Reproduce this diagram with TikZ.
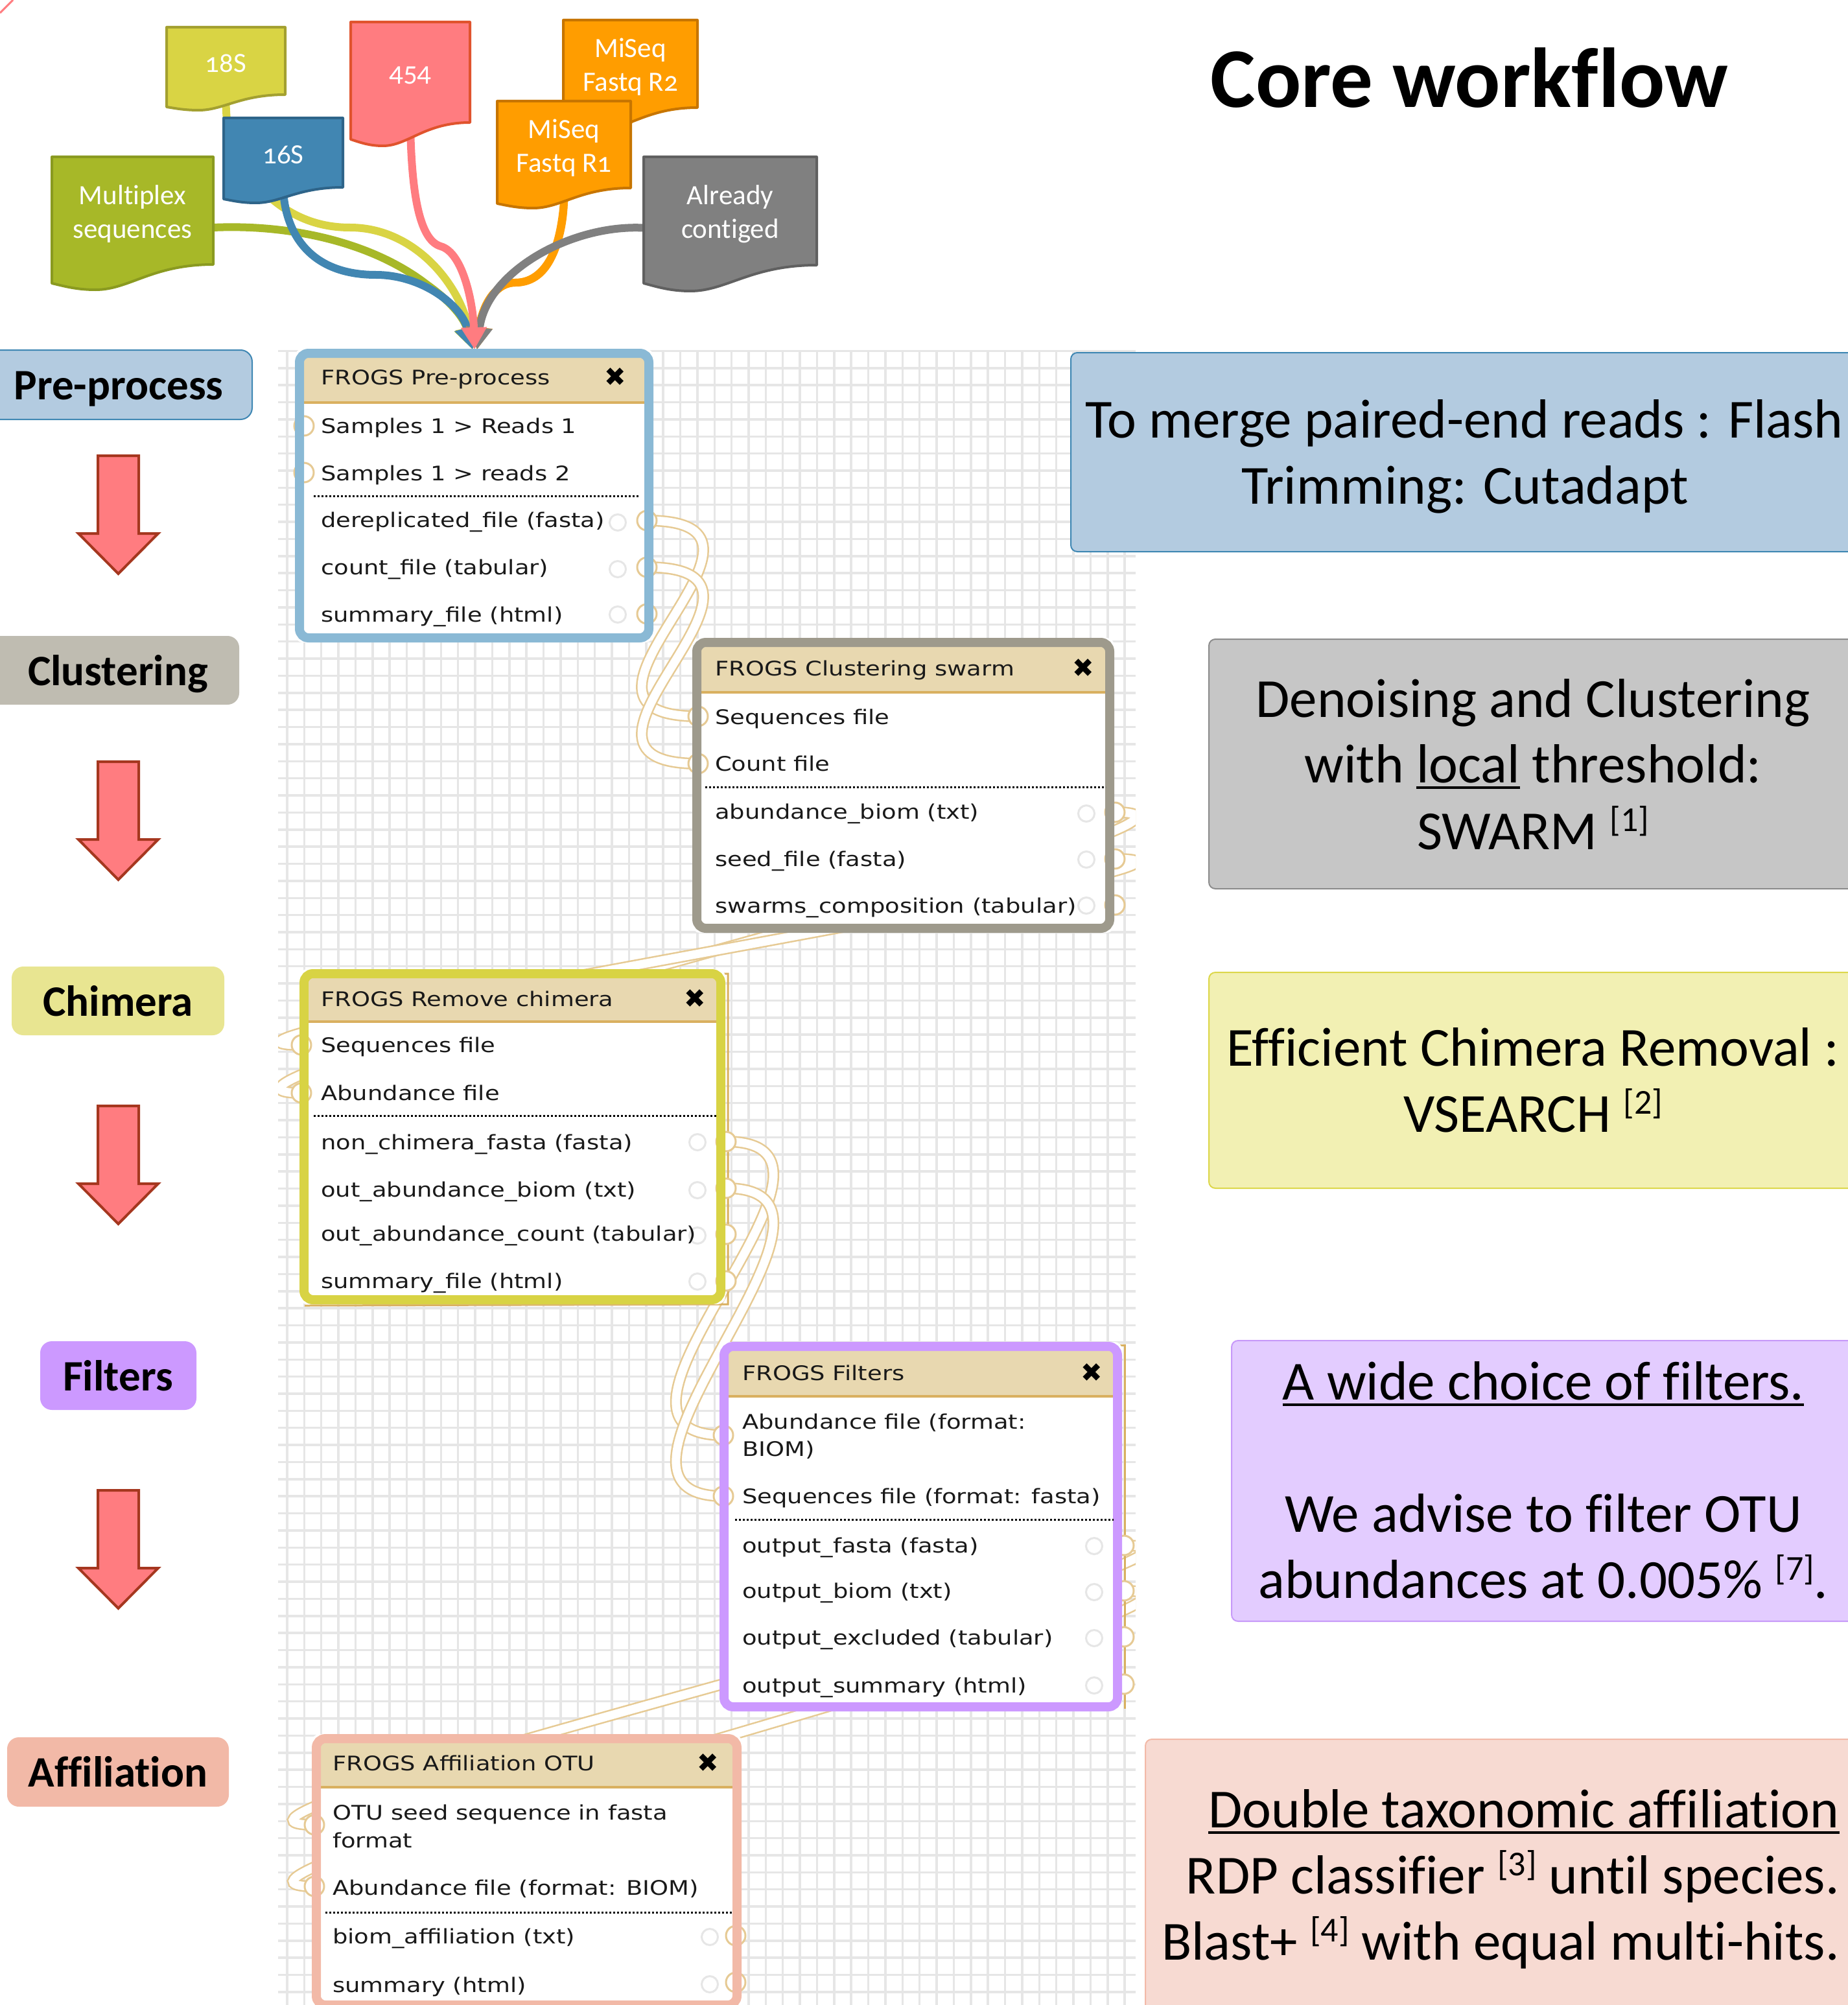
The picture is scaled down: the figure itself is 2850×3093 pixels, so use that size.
\documentclass[tikz,border=0pt]{standalone}
\usepackage{fontspec}
\usetikzlibrary{arrows.meta}
\setmainfont{Carlito}[Ligatures=NoCommon]
\newfontfamily\docfont[Numbers=OldStyle,Ligatures=NoCommon]{Carlito}
\newfontfamily\boxfont[FakeStretch=1.19]{DejaVu Sans}
\newfontfamily\xfont{DejaVu Sans}
\definecolor{gridc}{HTML}{E6E6E6}
\definecolor{wirec}{HTML}{E6CA94}
\definecolor{headc}{HTML}{E8D8B0}
\definecolor{headl}{HTML}{D9B060}
\definecolor{pinkf}{HTML}{FF7C80}
\definecolor{pinkd}{HTML}{A5371F}
\definecolor{c18}{HTML}{D9D444}
\definecolor{c18d}{HTML}{A3A030}
\definecolor{c16}{HTML}{4186B2}
\definecolor{c16d}{HTML}{2E6489}
\definecolor{c454d}{HTML}{E0532D}
\definecolor{cmi}{HTML}{FF9D00}
\definecolor{cmid}{HTML}{C77500}
\definecolor{cmu}{HTML}{A7B828}
\definecolor{cmud}{HTML}{8A9A20}
\definecolor{cal}{HTML}{808080}
\definecolor{cald}{HTML}{606060}
\definecolor{bpre}{HTML}{8AB9D5}
\definecolor{bclu}{HTML}{9E9A8C}
\definecolor{bchi}{HTML}{D8D344}
\definecolor{bfil}{HTML}{CC99FF}
\definecolor{baff}{HTML}{F2B9A7}
\definecolor{lblue}{HTML}{B3CBE0}
\definecolor{lblued}{HTML}{3F87B3}
\definecolor{lclu}{HTML}{BFBCB1}
\definecolor{lchi}{HTML}{E8E591}
\definecolor{rgray}{HTML}{C6C6C6}
\definecolor{rgrayd}{HTML}{8C8C8C}
\definecolor{ryel}{HTML}{F2F0B3}
\definecolor{ryeld}{HTML}{DCD74A}
\definecolor{rpur}{HTML}{E3CCFF}
\definecolor{rpurd}{HTML}{C799F9}
\definecolor{rpin}{HTML}{F7DAD2}
\pgfdeclarelayer{gridlayer}
\pgfdeclarelayer{wirelayer}
\pgfsetlayers{gridlayer,wirelayer,main}
\newcommand{\ulbar}[1]{\setbox0\hbox{#1}\rlap{\vrule width\wd0 height -6pt depth 10pt}\box0\relax}
\newcommand{\sref}[1]{\raisebox{28pt}{\fontsize{54}{54}\selectfont[#1]}}
\newcommand{\docshape}[9]{%
  % name,x1,x2,top,yr,yl,low,fill,border
  \draw[fill=#8,draw=#9,line width=4pt,line join=round]
    (#2,#4) -- (#3,#4) -- (#3,#5)
    .. controls ({#2+0.62*(#3-#2)},#5) and ({#2+0.48*(#3-#2)},#7) .. ({#2+0.27*(#3-#2)},#7)
    .. controls ({#2+0.15*(#3-#2)},#7) and ({#2+0.07*(#3-#2)},{#6+0.4*(#7-#6)}) .. (#2,#6) -- cycle;
  \node[docnode,minimum width={(#3-#2)*1pt},minimum height={(#5-#4)*1pt}] (#1) at ({(#2+#3)/2},{(#4+#5)/2})}
\newcommand{\frogsbg}[6]{% x1,y1,x2,y2,headerbottom,dummy
  \fill[white,rounded corners=12pt] (#1,#2) rectangle (#3,#4);
  \fill[headc] ({#1+7},{#2+7}) rectangle ({#3-7},#5);
  \draw[headl,line width=3.5pt] ({#1+7},#5) -- ({#3-7},#5);}
\newcommand{\frogsborder}[5]{% x1,y1,x2,y2,colour
  \draw[#5,line width=14pt,rounded corners=14pt] ({#1+7},{#2+7}) rectangle ({#3-7},{#4-7});}
\newcommand{\stagearrow}[1]{%
  \draw[fill=pinkf,draw=pinkd,line width=4pt,miter limit=8]
    (151,{#1+1}) -- (214,{#1+1}) -- (214,{#1+121}) -- (244,{#1+121}) -- (182.5,{#1+183}) -- (121,{#1+121}) -- (151,{#1+121}) -- cycle;}
\tikzset{
  gridline/.style={gridc,line width=3.5pt},
  docnode/.style={inner sep=0pt,align=center,text=white,yshift=-5pt,font=\docfont\fontsize{43}{52}\selectfont},
  feed/.style={line width=12pt,-{Triangle[length=34pt,width=38pt]}},
  wire/.style={draw=wirec,line width=2.5pt,double=white,double distance=13pt},
  termin/.style={circle,inner sep=0pt,minimum size=30pt,draw=wirec,line width=3pt,fill=white},
  termgray/.style={circle,inner sep=0pt,minimum size=25pt,draw=gridc,line width=3pt},
  rowtext/.style={anchor=base west,yshift=-11pt,inner sep=0pt,text=black!90,font=\boxfont\fontsize{31}{40}\selectfont},
  closex/.style={inner sep=0pt,text=black,font=\xfont\fontsize{40}{40}\selectfont},
  dotrule/.style={black,line width=3pt,dash pattern=on 3pt off 3pt},
  labelbox/.style={rounded corners=18pt,inner sep=0pt},
  labeltext/.style={anchor=base,yshift=-23pt,inner sep=0pt,font=\bfseries\fontsize{67}{80}\selectfont},
  rightbox/.style={rounded corners=10pt,line width=2pt},
  bigtext/.style={anchor=base,yshift=-26pt,inner sep=0pt,text=black,font=\fontsize{85}{102}\selectfont},
}
\begin{document}
\begin{tikzpicture}[x=1pt,y=-1pt]
\useasboundingbox (0,0) rectangle (2850,3093);
% corner mark
\draw[pinkf,line width=3pt] (0,20) -- (20,0);
% grid
\begin{pgfonlayer}{gridlayer}
\foreach \k in {0,...,96} \draw[gridline] (429,{541.4+26.37*\k}) -- (1752,{541.4+26.37*\k});
\foreach \k in {0,...,49} \draw[gridline] ({443+26.37*\k},540) -- ({443+26.37*\k},3093);
\end{pgfonlayer}

% source documents
\docshape{r2}{869}{1076}{31}{166}{190}{200}{cmi}{cmid} {MiSeq\\Fastq R2};
\docshape{s18}{257}{440}{42}{146}{165}{170}{c18}{c18d} {\raisebox{3pt}{18S}};
\docshape{s16}{345}{529}{182}{289}{307}{313}{c16}{c16d} {\raisebox{3pt}{16S}};
\docshape{n454}{541}{725}{34}{189}{215}{225}{pinkf}{c454d} {\raisebox{-5pt}{454}};
\docshape{r1}{767}{973}{156}{290}{314}{321}{cmi}{cmid} {MiSeq\\Fastq R1};
\docshape{mu}{80}{329}{242}{408}{437}{447}{cmu}{cmud} {Multiplex\\sequences};
\docshape{al}{993}{1260}{242}{409}{437}{449}{cal}{cald} {Already\\contiged};
\coordinate (tipL) at (729,539);
\coordinate (tipC) at (732,539);
\coordinate (tipR) at (736,539);

% title
\node[anchor=base,inner sep=0pt,font=\bfseries\fontsize{131}{140}\selectfont] (core) at (2267,166) {Core workflow};

% stage labels
\node[labelbox,fill=lblue,draw=lblued,line width=2pt,minimum width=409pt,minimum height=107pt] (lpreb) at (184.5,593.5) {};
\node[labeltext] (lpre) at (183,593) {Pre-process};
\node[labelbox,fill=lclu,minimum width=389pt,minimum height=106pt] (lclub) at (174.5,1034) {};
\node[labeltext] (lclu) at (182,1034) {Clustering};
\node[labelbox,fill=lchi,minimum width=328pt,minimum height=106pt] (lchib) at (182,1544) {};
\node[labeltext] (lchi) at (182,1544) {Chimera};
\node[labelbox,fill=bfil,minimum width=241pt,minimum height=106pt] (lfilb) at (182.5,2122) {};
\node[labeltext] (lfil) at (182,2122) {Filters};
\node[labelbox,fill=baff,minimum width=342pt,minimum height=107pt] (laffb) at (182,2733.5) {};
\node[labeltext] (laff) at (182,2733) {Affiliation};
\stagearrow{702}
\stagearrow{1174}
\stagearrow{1705}
\stagearrow{2298}

% FROGS Pre-process
\frogsbg{455}{538}{1008}{991}{621}{}
\node[termin] (pi1) at (469,657) {};
\node[termin] (pi2) at (469,729) {};
\node[termgray] (pg1) at (953,806) {};
\node[termgray] (pg2) at (953,878) {};
\node[termgray] (pg3) at (953,948) {};
\node[termin] (po1) at (998,803) {};
\node[termin] (po2) at (998,875) {};
\node[termin] (po3) at (998,947) {};
\frogsborder{455}{538}{1008}{991}{bpre}
\node[rowtext] (pt) at (495,582) {FROGS Pre-process};
\node[closex] (px) at (949,582) {✖};
\node[rowtext] (pr1) at (495,657) {Samples 1 > Reads 1};
\node[rowtext] (pr2) at (495,730) {Samples 1 > reads 2};
\draw[dotrule] (484,765) -- (985,765);
\node[rowtext] (pr3) at (495,802) {dereplicated\_file (fasta)};
\node[rowtext] (pr4) at (495,875) {count\_file (tabular)};
\node[rowtext] (pr5) at (495,948) {summary\_file (html)};

% FROGS Clustering swarm
\frogsbg{1068}{984}{1719}{1439}{1068}{}
\node[termin] (ci1) at (1077,1105) {};
\node[termin] (ci2) at (1077,1178) {};
\node[termgray] (cg1) at (1676,1255) {};
\node[termgray] (cg2) at (1676,1326) {};
\node[termgray] (cg3) at (1676,1397) {};
\node[termin] (co1) at (1720,1253) {};
\node[termin] (co2) at (1720,1325) {};
\node[termin] (co3) at (1720,1396) {};
\frogsborder{1068}{984}{1719}{1439}{bclu}
\node[rowtext] (ct) at (1103,1031) {FROGS Clustering swarm};
\node[closex] (cx) at (1671,1031) {✖};
\node[rowtext] (cr1) at (1103,1106) {Sequences file};
\node[rowtext] (cr2) at (1103,1178) {Count file};
\draw[dotrule] (1088,1214) -- (1706,1214);
\node[rowtext] (cr3) at (1103,1252) {abundance\_biom (txt)};
\node[rowtext] (cr4) at (1103,1325) {seed\_file (fasta)};
\node[rowtext] (cr5) at (1103,1397) {swarms\_composition (tabular)};

% FROGS Remove chimera
\draw[headl,line width=3pt] (1100,1502) -- (1123,1502) -- (1123,2012) -- (470,2014);
\frogsbg{462}{1495}{1119}{2012}{1576}{}
\node[termin] (hi1) at (465,1612) {};
\node[termin] (hi2) at (465,1686) {};
\node[termgray] (hg1) at (1076,1762) {};
\node[termgray] (hg2) at (1076,1836) {};
\node[termgray] (hg3) at (1076,1906) {};
\node[termgray] (hg4) at (1076,1977) {};
\node[termin] (ho1) at (1120,1761) {};
\node[termin] (ho2) at (1120,1833) {};
\node[termin] (ho3) at (1120,1904) {};
\node[termin] (ho4) at (1120,1976) {};
\frogsborder{462}{1495}{1119}{2012}{bchi}
\node[rowtext] (ht) at (495,1541) {FROGS Remove chimera};
\node[closex] (hx) at (1072,1541) {✖};
\node[rowtext] (hr1) at (495,1612) {Sequences file};
\node[rowtext] (hr2) at (495,1686) {Abundance file};
\draw[dotrule] (484,1721) -- (1106,1721);
\node[rowtext] (hr3) at (495,1762) {non\_chimera\_fasta (fasta)};
\node[rowtext] (hr4) at (495,1835) {out\_abundance\_biom (txt)};
\node[rowtext] (hr5) at (495,1903) {out\_abundance\_count (tabular)};
\node[rowtext] (hr6) at (495,1976) {summary\_file (html)};

% FROGS Filters
\draw[headl,line width=3pt] (1700,2075) -- (1735,2075) -- (1735,2636);
\frogsbg{1110}{2070}{1731}{2640}{2154}{}
\node[termin] (fi1) at (1116,2214) {};
\node[termin] (fi2) at (1116,2308) {};
\node[termgray] (fg1) at (1688,2385) {};
\node[termgray] (fg2) at (1688,2456) {};
\node[termgray] (fg3) at (1688,2527) {};
\node[termgray] (fg4) at (1688,2600) {};
\node[termin] (fo1) at (1734,2384) {};
\node[termin] (fo2) at (1734,2454) {};
\node[termin] (fo3) at (1734,2525) {};
\node[termin] (fo4) at (1734,2598) {};
\frogsborder{1110}{2070}{1731}{2640}{bfil}
\node[rowtext] (ft) at (1145,2118) {FROGS Filters};
\node[closex] (fx) at (1684,2118) {✖};
\node[rowtext] (fr1) at (1145,2193) {Abundance file (format:};
\node[rowtext] (fr1b) at (1145,2235) {BIOM)};
\node[rowtext] (fr2) at (1145,2308) {Sequences file (format: fasta)};
\draw[dotrule] (1134,2344) -- (1718,2344);
\node[rowtext] (fr3) at (1145,2384) {output\_fasta (fasta)};
\node[rowtext] (fr4) at (1145,2454) {output\_biom (txt)};
\node[rowtext] (fr5) at (1145,2526) {output\_excluded (tabular)};
\node[rowtext] (fr6) at (1145,2600) {output\_summary (html)};

% FROGS Affiliation OTU
\frogsbg{481}{2675}{1144}{3100}{2757}{}
\node[termin] (ai1) at (485,2815) {};
\node[termin] (ai2) at (485,2910) {};
\node[termgray] (ag1) at (1095,2988) {};
\node[termgray] (ag2) at (1095,3061) {};
\node[termin] (ao1) at (1135,2986) {};
\node[termin] (ao2) at (1135,3058) {};
\frogsborder{481}{2675}{1144}{3100}{baff}
\node[rowtext] (at) at (513,2720) {FROGS Affiliation OTU};
\node[closex] (ax) at (1092,2720) {✖};
\node[rowtext] (ar1) at (513,2796) {OTU seed sequence in fasta};
\node[rowtext] (ar1b) at (513,2839) {format};
\node[rowtext] (ar2) at (513,2912) {Abundance file (format: BIOM)};
\draw[dotrule] (502,2950) -- (1130,2950);
\node[rowtext] (ar3) at (513,2987) {biom\_affiliation (txt)};
\node[rowtext] (ar4) at (513,3062) {summary (html)};

% right panels
\draw[rightbox,fill=lblue,draw=lblued] (1652,544) rectangle (2890,851);
\node[bigtext] (b1) at (2259,649) {To merge paired-end reads : Flash};
\node[bigtext] (b2) at (2260,751) {Trimming: Cutadapt};
\draw[rightbox,fill=rgray,draw=rgrayd] (1865,986) rectangle (2890,1371);
\node[bigtext] (g1) at (2365,1080) {Denoising and Clustering};
\node[bigtext] (g2) at (2365,1181) {with \ulbar{local} threshold:};
\node[bigtext] (g3) at (2365,1284) {SWARM \sref{1}};
\draw[rightbox,fill=ryel,draw=ryeld] (1865,1500) rectangle (2890,1833);
\node[bigtext] (y1) at (2365,1618) {Efficient Chimera Removal :};
\node[bigtext] (y2) at (2365,1720) {VSEARCH \sref{2}};
\draw[rightbox,fill=rpur,draw=rpurd] (1900,2068) rectangle (2890,2501);
\node[bigtext] (v1) at (2381,2133) {\ulbar{A wide choice of filters.}};
\node[bigtext] (v2) at (2381,2337) {We advise to filter OTU};
\node[bigtext] (v3) at (2381,2439) {abundances at 0.005\% \sref{7}.};
\draw[rightbox,fill=rpin,draw=baff] (1767,2683) rectangle (2890,3120);
\node[bigtext,anchor=base east] (k1) at (2838,2793) {\ulbar{Double taxonomic affiliation}};
\node[bigtext,anchor=base east] (k2) at (2838,2895) {RDP classifier \sref{3} until species.};
\node[bigtext,anchor=base east] (k3) at (2838,2997) {Blast+ \sref{4} with equal multi-hits.};

% connectors
\begin{pgfonlayer}{wirelayer}
\draw[feed,c18] (s18.south) .. controls (348,240) and (380,280) .. (422,309) .. controls (460,340) and (500,351) .. (540,351) .. controls (640,351) and (710,440) .. (tipL);
\draw[feed,cmu] ([yshift=-21pt]mu.east) .. controls (440,346) and (570,370) .. (660,440) .. controls (695,465) and (716,490) .. (tipL);
\draw[feed,c16] (s16.south) .. controls (440,350) and (470,424) .. (580,424) .. controls (650,424) and (712,470) .. (tipL);
\draw[feed,cmi] (r2.south) .. controls (972,230) and (880,250) .. (870,312) .. controls (865,370) and (850,436) .. (795,436) .. controls (760,436) and (742,480) .. (tipR);
\draw[feed,cmi] (r1.south) .. controls (872,360) and (850,436) .. (795,436) .. controls (760,436) and (742,480) .. (tipR);
\draw[feed,cal] ([yshift=-21pt]al.west) .. controls (880,346) and (750,420) .. (tipR);
\draw[feed,pinkf] (n454.south) .. controls (635,290) and (645,370) .. (680,380) .. controls (715,390) and (730,470) .. (tipC);
\begin{scope}
\clip (429,540) rectangle (1752,3093);
\draw[wire] (po1.center) .. controls +(265,0) and ([xshift=-265pt]ci1.center) .. (ci1.center);
\draw[wire] (po2.center) .. controls +(265,0) and ([xshift=-265pt]ci2.center) .. (ci2.center);
\draw[wire] (co1.center) .. controls +(300,0) and ([xshift=-300pt]hi2.center) .. (hi2.center);
\draw[wire] (co2.center) .. controls +(300,0) and ([xshift=-300pt]hi1.center) .. (hi1.center);
\draw[wire] (ho1.center) .. controls +(255,0) and ([xshift=-255pt]fi1.center) .. (fi1.center);
\draw[wire] (ho2.center) .. controls +(255,0) and ([xshift=-255pt]fi2.center) .. (fi2.center);
\draw[wire] (fo1.center) .. controls +(300,0) and ([xshift=-300pt]ai1.center) .. (ai1.center);
\draw[wire] (fo2.center) .. controls +(300,0) and ([xshift=-300pt]ai2.center) .. (ai2.center);
\end{scope}
\end{pgfonlayer}
\end{tikzpicture}
\end{document}
